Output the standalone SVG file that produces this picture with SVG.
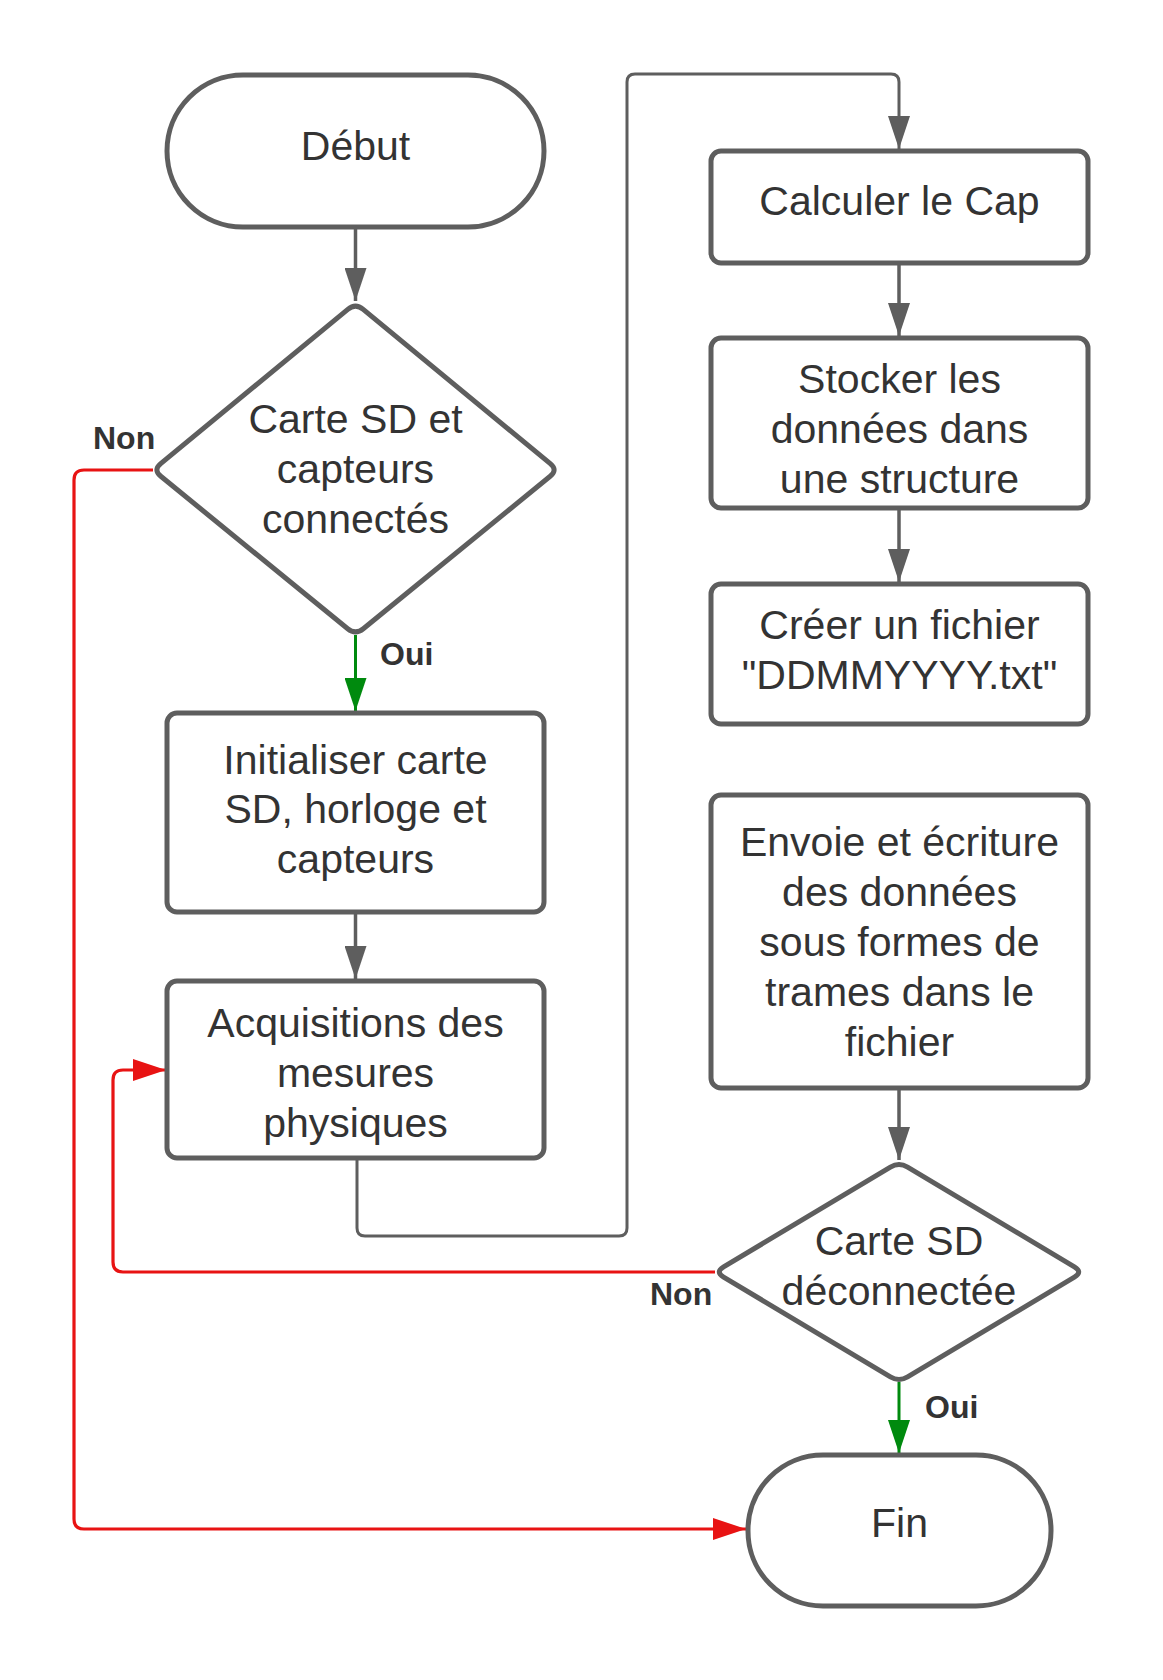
<svg xmlns="http://www.w3.org/2000/svg" width="1163" height="1680" viewBox="0 0 1163 1680">
<style>
.node{fill:#ffffff;stroke:#5e5e5e;stroke-width:5;stroke-linejoin:round}
.t{font-family:"Liberation Sans",Arial,sans-serif;font-size:41px;fill:#333333;text-anchor:middle}
.lbl{font-family:"Liberation Sans",Arial,sans-serif;font-size:32px;font-weight:bold;fill:#333333}
.c{fill:none;stroke:#5e5e5e;stroke-width:3.5}
.loop{fill:none;stroke:#5e5e5e;stroke-width:3}
.red{fill:none;stroke:#e81313;stroke-width:3.2}
.grn{fill:none;stroke:#008a0e;stroke-width:3}
</style>
<defs>
<marker id="ag" markerUnits="userSpaceOnUse" markerWidth="34" markerHeight="22" refX="33" refY="11" orient="auto"><path d="M0,0 L33,11 L0,22 Z" fill="#5e5e5e"/></marker>
<marker id="ar" markerUnits="userSpaceOnUse" markerWidth="34" markerHeight="22" refX="33" refY="11" orient="auto"><path d="M0,0 L33,11 L0,22 Z" fill="#e81313"/></marker>
<marker id="agr" markerUnits="userSpaceOnUse" markerWidth="34" markerHeight="22" refX="33" refY="11" orient="auto"><path d="M0,0 L33,11 L0,22 Z" fill="#008a0e"/></marker>
</defs>
<rect width="1163" height="1680" fill="#ffffff"/>
<g id="connectors">
<path class="c" d="M355.5,227 V301" marker-end="url(#ag)"/>
<path class="grn" d="M355.5,635 V711" marker-end="url(#agr)"/>
<path class="c" d="M355.5,912 V979" marker-end="url(#ag)"/>
<path class="loop" d="M357,1158 V1228 Q357,1236 365,1236 H619 Q627,1236 627,1228 V82 Q627,74 635,74 H891 Q899,74 899,82 V149" marker-end="url(#ag)"/>
<path class="c" d="M899,263 V336" marker-end="url(#ag)"/>
<path class="c" d="M899,508 V582" marker-end="url(#ag)"/>
<path class="c" d="M899,1088 V1160" marker-end="url(#ag)"/>
<path class="grn" d="M899,1382 V1453" marker-end="url(#agr)"/>
<path class="red" d="M153,470 H84 Q74,470 74,480 V1519 Q74,1529 84,1529 H746" marker-end="url(#ar)"/>
<path class="red" d="M715,1272 H123 Q113,1272 113,1262 V1080 Q113,1070 123,1070 H166" marker-end="url(#ar)"/>
<text class="lbl" x="93" y="449">Non</text>
<text class="lbl" x="380" y="665">Oui</text>
<text class="lbl" x="650" y="1305">Non</text>
<text class="lbl" x="925" y="1418">Oui</text>
</g>
<g id="debut">
<rect class="node" x="167" y="75" width="377" height="152" rx="76"/>
<text class="t" x="355.5" y="160">Début</text>
</g>
<g id="decision1">
<path class="node" d="M347.8,309.4 Q355.5,303 363.2,309.4 L550.3,463.6 Q558,470 550.2,476.3 L363.3,628.7 Q355.5,635 347.7,628.7 L160.8,476.3 Q153,470 160.7,463.6 Z"/>
<text class="t" x="355.5" y="433">Carte SD et</text>
<text class="t" x="355.5" y="483">capteurs</text>
<text class="t" x="355.5" y="533">connectés</text>
</g>
<g id="init">
<rect class="node" x="167" y="713" width="377" height="199" rx="10"/>
<text class="t" x="355.5" y="774">Initialiser carte</text>
<text class="t" x="355.5" y="823">SD, horloge et</text>
<text class="t" x="355.5" y="873">capteurs</text>
</g>
<g id="acquisitions">
<rect class="node" x="167" y="981" width="377" height="177" rx="10"/>
<text class="t" x="355.5" y="1037">Acquisitions des</text>
<text class="t" x="355.5" y="1087">mesures</text>
<text class="t" x="355.5" y="1137">physiques</text>
</g>
<g id="calculer">
<rect class="node" x="711" y="151" width="377" height="112" rx="10"/>
<text class="t" x="899.5" y="215">Calculer le Cap</text>
</g>
<g id="stocker">
<rect class="node" x="711" y="338" width="377" height="170" rx="10"/>
<text class="t" x="899.5" y="393">Stocker les</text>
<text class="t" x="899.5" y="443">données dans</text>
<text class="t" x="899.5" y="493">une structure</text>
</g>
<g id="creer">
<rect class="node" x="711" y="584" width="377" height="140" rx="10"/>
<text class="t" x="899.5" y="639">Créer un fichier</text>
<text class="t" x="899.5" y="689">"DDMMYYYY.txt"</text>
</g>
<g id="envoie">
<rect class="node" x="711" y="795" width="377" height="293" rx="10"/>
<text class="t" x="899.5" y="856">Envoie et écriture</text>
<text class="t" x="899.5" y="906">des données</text>
<text class="t" x="899.5" y="956">sous formes de</text>
<text class="t" x="899.5" y="1006">trames dans le</text>
<text class="t" x="899.5" y="1056">fichier</text>
</g>
<g id="decision2">
<path class="node" d="M890.4,1167.1 Q899,1162 907.6,1167.1 L1074.4,1266.9 Q1083,1272 1074.4,1277.1 L907.6,1376.9 Q899,1382 890.4,1376.9 L723.6,1277.1 Q715,1272 723.6,1266.9 Z"/>
<text class="t" x="899" y="1255">Carte SD</text>
<text class="t" x="899" y="1305">déconnectée</text>
</g>
<g id="fin">
<rect class="node" x="748" y="1455" width="303" height="151" rx="75"/>
<text class="t" x="899.5" y="1537">Fin</text>
</g>
</svg>
